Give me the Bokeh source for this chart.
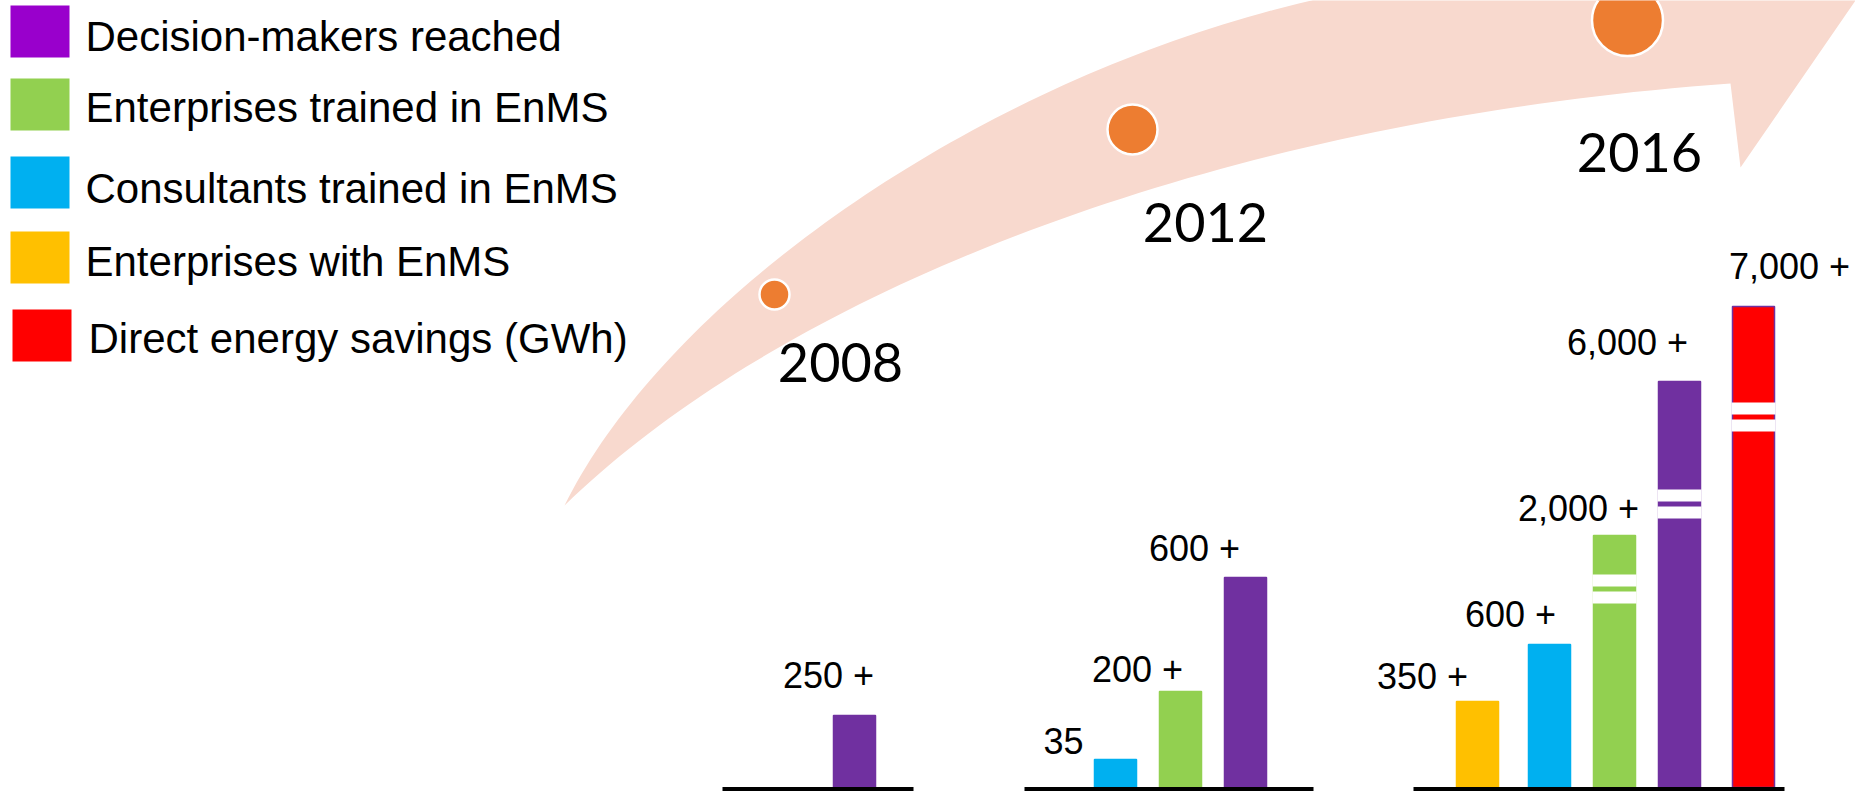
import numpy as np
from bokeh.plotting import figure
from bokeh.models import Range1d, ColumnDataSource
from bokeh.core.properties import value
from bokeh.embed import file_html
from bokeh.resources import INLINE

# ---------------- data ----------------
years = ["2008", "2012", "2016"]
series = ["Decision-makers reached", "Enterprises trained in EnMS",
          "Consultants trained in EnMS", "Enterprises with EnMS",
          "Direct energy savings (GWh)"]
legend_colors = ["#9900CC", "#92D050", "#00B0F0", "#FFC000", "#FF0000"]
bar_colors = {"Decision-makers reached": "#7030A0",
              "Enterprises trained in EnMS": "#92D050",
              "Consultants trained in EnMS": "#00B0F0",
              "Enterprises with EnMS": "#FFC000",
              "Direct energy savings (GWh)": "#FF0000"}

bar_year = ["2008", "2012", "2012", "2012", "2016", "2016", "2016", "2016", "2016"]
bar_series = ["Decision-makers reached",
              "Consultants trained in EnMS", "Enterprises trained in EnMS", "Decision-makers reached",
              "Enterprises with EnMS", "Consultants trained in EnMS", "Enterprises trained in EnMS",
              "Decision-makers reached", "Direct energy savings (GWh)"]
bar_values = [250, 35, 200, 600, 350, 600, 2000, 6000, 7000]
bar_labels = ["250 +", "35", "200 +", "600 +", "350 +", "600 +", "2,000 +", "6,000 +", "7,000 +"]
# drawn (schematic) bar heights; tall bars are broken
bar_drawn = [72, 28, 96, 210, 86, 143, 252, 406, 481]
bar_broken = [False, False, False, False, False, False, True, True, True]

# ---------------- layout ----------------
W, H = 1855, 791
BASE = 787.0
group_anchor = {"2008": 854, "2012": 1245, "2016": 1679}
slot_offset = {"Enterprises with EnMS": -202, "Consultants trained in EnMS": -130,
               "Enterprises trained in EnMS": -65, "Decision-makers reached": 0,
               "Direct energy savings (GWh)": 74}
group_line = {"2008": (722, 913), "2012": (1024, 1313), "2016": (1413, 1784)}
label_dx = [-26, -52, -43, -51, -55, -39, -36, -52, 36]
label_gap = [27, 6, 9, 16, 12, 17, 14, 26, 27]
break_from_top = [0, 0, 0, 0, 0, 0, 39, 108, 96]
BAR_W = 42

year_pos = {"2008": (840, 362), "2012": (1205, 222), "2016": (1639, 152)}
dot_pos = {"2008": (774, 294, 30), "2012": (1132, 129, 50), "2016": (1627, 20, 71)}

p = figure(width=W, height=H, output_backend="svg", toolbar_location=None,
           x_range=Range1d(0, W), y_range=Range1d(H, 0),
           min_border=0, outline_line_color=None, background_fill_color="white",
           border_fill_color="white")
p.axis.visible = False
p.grid.visible = False

# ---------------- curved arrow ----------------
def bez(p0, p1, p2, p3, n=80):
    t = np.linspace(0, 1, n)[:, None]
    pts = ((1 - t) ** 3) * np.array(p0) + 3 * ((1 - t) ** 2) * t * np.array(p1) \
        + 3 * (1 - t) * t ** 2 * np.array(p2) + t ** 3 * np.array(p3)
    return pts

outer = bez((564, 505), (665, 300), (975, 78), (1311, 0))
inner = bez((564, 505), (785, 290), (1215, 120), (1730, 83))[::-1]
ax = list(outer[:, 0]) + [1340, 1870, 1855, 1740] + list(inner[:, 0])
ay = list(outer[:, 1]) + [-12, -12, 0, 167] + list(inner[:, 1])
p.patch(ax, ay, fill_color="#F8D9CE", line_color=None)

# dots on arrow
p.scatter([dot_pos[y][0] for y in years], [dot_pos[y][1] for y in years],
          size=[dot_pos[y][2] for y in years], marker="circle",
          fill_color="#ED7D31", line_color="white", line_width=2.5)

# year labels
p.text([year_pos[y][0] for y in years], [year_pos[y][1] for y in years], text=years,
       text_font=value("Lato"), text_font_size=value("54px"), text_align="center",
       text_baseline="middle", text_color="black")

# ---------------- legend ----------------
leg_top = [5, 78, 156, 231, 309]
leg_left = [10, 10, 10, 10, 12]
leg_text_x = [85, 85, 85, 85, 88]
leg_mid = [35.5, 106.5, 187.5, 261, 338]
p.quad(left=leg_left, right=[l + 59 for l in leg_left], top=leg_top,
       bottom=[t + 52 for t in leg_top], fill_color=legend_colors, line_color=None)
p.text(leg_text_x, leg_mid, text=series, text_font=value("Liberation Sans"),
       text_font_size=value("42px"), text_align="left", text_baseline="middle",
       text_color="black")

# ---------------- bars ----------------
bx = [group_anchor[y] + slot_offset[s] for y, s in zip(bar_year, bar_series)]
btop = [BASE - h for h in bar_drawn]
src = ColumnDataSource(dict(x=bx, top=btop, bottom=[BASE] * len(bx),
                            color=[bar_colors[s] for s in bar_series],
                            line=["#7030A0" if s.startswith("Direct") else bar_colors[s] for s in bar_series],
                            value=bar_values))
p.vbar(x="x", top="top", bottom="bottom", width=BAR_W, fill_color="color",
       line_color="line", line_width=1.5, source=src)

# axis-break marks on the tall bars
bl, br, bt, bb = [], [], [], []
for x, t, brk, off in zip(bx, btop, bar_broken, break_from_top):
    if brk:
        for k in range(2):
            y0 = t + off + k * 17
            bl.append(x - BAR_W / 2 - 1); br.append(x + BAR_W / 2 + 1)
            bt.append(y0); bb.append(y0 + 12)
p.quad(left=bl, right=br, top=bt, bottom=bb, fill_color="white", line_color=None)

# group base lines
p.quad(left=[group_line[y][0] for y in years], right=[group_line[y][1] for y in years],
       top=[BASE - 0.5] * 3, bottom=[792] * 3, fill_color="black", line_color=None)

# value labels
lx = [x + d for x, d in zip(bx, label_dx)]
ly = [t - g - 13 for t, g in zip(btop, label_gap)]
p.text(lx, ly, text=bar_labels, text_font=value("Liberation Sans"),
       text_font_size=value("36px"), text_align="center", text_baseline="middle",
       text_color="black")

open("out.html", "w").write(file_html(p, INLINE))
